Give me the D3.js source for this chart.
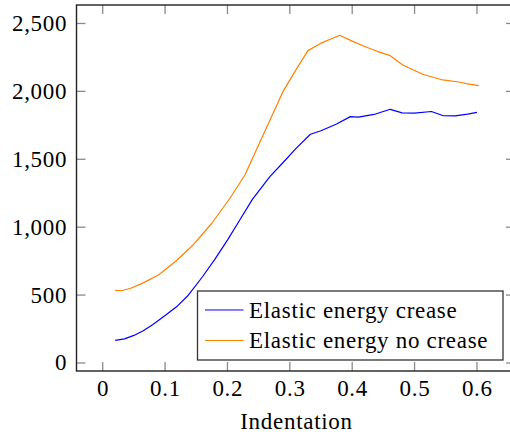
<!DOCTYPE html>
<html>
<head>
<meta charset="utf-8">
<script src="https://cdn.jsdelivr.net/npm/d3@7"></script>
<style>
  html, body { margin: 0; padding: 0; background: #fff; }
  svg { display: block; }
  text { font-family: "Liberation Serif", "Times New Roman", serif; fill: #000; }
</style>
</head>
<body>
<svg id="chart" width="510" height="434"></svg>
<script>
// ---- data ----
const creaseX = [0.02, 0.035, 0.05, 0.065, 0.08, 0.1, 0.12, 0.136, 0.16, 0.18, 0.2, 0.22, 0.24, 0.268, 0.29, 0.31, 0.333, 0.35, 0.375, 0.397, 0.41, 0.435, 0.461, 0.48, 0.5, 0.527, 0.545, 0.565, 0.585, 0.6];
const creaseY = [167, 178, 203, 237, 282, 350, 420, 493, 635, 765, 905, 1055, 1205, 1372, 1480, 1580, 1684, 1710, 1760, 1814, 1810, 1830, 1868, 1842, 1840, 1852, 1822, 1820, 1832, 1846];
const noCreaseX = [0.02, 0.03, 0.045, 0.065, 0.09, 0.118, 0.145, 0.175, 0.204, 0.228, 0.26, 0.289, 0.31, 0.329, 0.35, 0.38, 0.4, 0.42, 0.44, 0.461, 0.481, 0.513, 0.545, 0.571, 0.585, 0.603];
const noCreaseY = [535, 532, 550, 590, 650, 753, 869, 1029, 1213, 1384, 1706, 1998, 2160, 2300, 2355, 2413, 2370, 2330, 2295, 2263, 2194, 2126, 2084, 2069, 2055, 2042];
const xTicks = [0, 0.1, 0.2, 0.3, 0.4, 0.5, 0.6];
const yTicks = [0, 500, 1000, 1500, 2000, 2500];
const seriesNames = ["Elastic energy crease", "Elastic energy no crease"];
const seriesColors = ["#0000ff", "#ff8000"];
const xLabel = "Indentation";

const svg = d3.select("#chart");
const L = 76.5, R = 515, T = 5, B = 371;
const x = d3.scaleLinear().domain([-0.042, 0.661]).range([L, R]);
const y = d3.scaleLinear().domain([-59, 2636]).range([B, T]);

const tickLen = 9;
const tickColor = "#8a8a8a";
const g = svg.append("g");
const FS = 23, LS = "0.7px";

// ticks (inside, mirrored)
const xt = g.append("g");
xTicks.forEach(v => {
  xt.append("line").attr("x1", x(v)).attr("x2", x(v)).attr("y1", B).attr("y2", B - tickLen)
    .attr("stroke", tickColor).attr("stroke-width", 1.3);
  xt.append("line").attr("x1", x(v)).attr("x2", x(v)).attr("y1", T).attr("y2", T + tickLen)
    .attr("stroke", tickColor).attr("stroke-width", 1.3);
});
yTicks.forEach(v => {
  xt.append("line").attr("x1", L).attr("x2", L + tickLen).attr("y1", y(v)).attr("y2", y(v))
    .attr("stroke", tickColor).attr("stroke-width", 1.3);
  xt.append("line").attr("x1", R).attr("x2", R - tickLen).attr("y1", y(v)).attr("y2", y(v))
    .attr("stroke", tickColor).attr("stroke-width", 1.3);
});

// tick labels
const fmtY = d3.format(",");
yTicks.forEach(v => {
  g.append("text").attr("x", 67.2).attr("y", y(v) + 7.5)
    .attr("text-anchor", "end").attr("font-size", FS).attr("letter-spacing", LS).text(fmtY(v));
});
xTicks.forEach(v => {
  g.append("text").attr("x", x(v) + 0.4).attr("y", 395.5)
    .attr("text-anchor", "middle").attr("font-size", FS).attr("letter-spacing", LS)
    .text(v === 0 ? "0" : d3.format(".1f")(v));
});
g.append("text").attr("x", 296.5).attr("y", 428.5).attr("text-anchor", "middle")
  .attr("font-size", FS).attr("letter-spacing", LS).text(xLabel);

// lines
const line = d3.line().x(d => x(d[0])).y(d => y(d[1]));
const s1 = creaseX.map((v, i) => [v, creaseY[i]]);
const s2 = noCreaseX.map((v, i) => [v, noCreaseY[i]]);
[s1, s2].forEach((s, i) => {
  g.append("path").datum(s).attr("d", line).attr("fill", "none")
    .attr("stroke", seriesColors[i]).attr("stroke-width", 1.2).attr("stroke-linejoin", "round");
});

// frame
g.append("rect").attr("x", L).attr("y", T).attr("width", R - L).attr("height", B - T)
  .attr("fill", "none").attr("stroke", "#222").attr("stroke-width", 1.4);

// legend
const lg = g.append("g");
lg.append("rect").attr("x", 197.5).attr("y", 291).attr("width", 305.5).attr("height", 69)
  .attr("fill", "#fff").attr("stroke", "#333").attr("stroke-width", 1.3);
seriesNames.forEach((n, i) => {
  const yy = 310 + i * 30.5;
  lg.append("line").attr("x1", 205).attr("x2", 243.5).attr("y1", yy).attr("y2", yy)
    .attr("stroke", seriesColors[i]).attr("stroke-width", 1.2);
  lg.append("text").attr("x", 249).attr("y", yy + 7.5).attr("font-size", FS)
    .attr("letter-spacing", LS).text(n);
});
</script>
</body>
</html>
